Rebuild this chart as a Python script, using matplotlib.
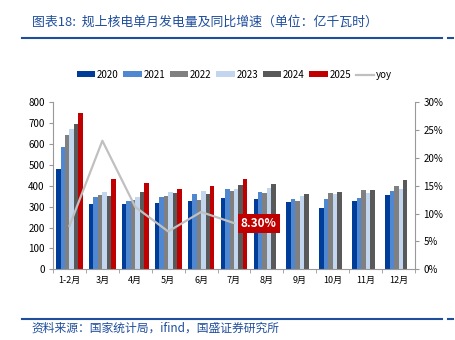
import numpy as np
import matplotlib.pyplot as plt
from matplotlib.patches import Patch
from matplotlib.lines import Line2D

plt.rcParams['font.family'] = ['Noto Sans CJK SC', 'DejaVu Sans']

months = ["1-2月", "3月", "4月", "5月", "6月", "7月", "8月", "9月", "10月", "11月", "12月"]
years = ["2020", "2021", "2022", "2023", "2024", "2025"]

gen_2020 = [481, 313, 315, 316, 326, 340, 339, 323, 292, 327, 358]
gen_2021 = [588, 348, 329, 348, 361, 387, 369, 335, 337, 340, 375]
gen_2022 = [645, 356, 331, 351, 331, 374, 367, 327, 364, 379, 401]
gen_2023 = [672, 371, 348, 371, 377, 383, 388, 350, 363, 367, 387]
gen_2024 = [696, 353, 371, 364, 361, 403, 407, 359, 372, 380, 428]
gen_2025 = [749, 431, 415, 387, 398, 433]
yoy = [7.8, 23.1, 11.2, 6.8, 10.3, 8.3]

series = [gen_2020, gen_2021, gen_2022, gen_2023, gen_2024, gen_2025]
colors = ["#003d99", "#4f88d0", "#808080", "#c3d6ef", "#595959", "#c00000"]
blue = "#1f4e9c"

fig = plt.figure(figsize=(4.55, 3.4), dpi=100)
ax = fig.add_axes([0.1165, 0.208, 0.7956, 0.491])

x = np.arange(len(months))
bw = 0.135
for i, (vals, c) in enumerate(zip(series, colors)):
    xi = x[:len(vals)] + (i - 2.5) * bw
    ax.bar(xi, vals, width=bw, color=c, linewidth=0)

ax.set_xlim(-0.5, len(months) - 0.5)
ax.set_ylim(0, 800)
ax.set_yticks(range(0, 801, 100))
ax.set_xticks(x)
ax.set_xticklabels(months)
ax.set_xticks(np.arange(-0.5, len(months), 1), minor=True)
ax.tick_params(axis='x', which='major', length=0, labelsize=6.5, pad=5)
ax.tick_params(axis='x', which='minor', length=3, color="#999999")
ax.tick_params(axis='y', labelsize=7, length=3, color="#999999", pad=3)
for s in ["top", "right"]:
    ax.spines[s].set_visible(False)
for s in ["left", "bottom"]:
    ax.spines[s].set_color("#999999")

ax2 = ax.twinx()
ax2.plot(x[:len(yoy)], yoy, color="#c0c0c0", linewidth=1.6)
ax2.set_ylim(0, 30)
ax2.set_yticks(range(0, 31, 5))
ax2.set_yticklabels([f"{v}%" for v in range(0, 31, 5)])
ax2.tick_params(axis='y', labelsize=7, length=3, color="#999999", pad=3)
for s in ["top", "left", "bottom"]:
    ax2.spines[s].set_visible(False)
ax2.spines["right"].set_color("#999999")

# label on the latest yoy point
ax2.annotate(f"{yoy[-1]:.2f}%", xy=(x[len(yoy) - 1], yoy[-1]), xytext=(5, 0),
             textcoords="offset points", ha="left", va="center",
             color="white", fontsize=8.5, fontweight="bold",
             bbox=dict(boxstyle="square,pad=0.25", fc="#c00000", ec="none"))

handles = [Patch(facecolor=c, label=y) for c, y in zip(colors, years)]
handles.append(Line2D([0], [0], color="#c0c0c0", linewidth=1.6, label="yoy"))
fig.legend(handles=handles, loc="center", bbox_to_anchor=(0.515, 0.78), ncol=7,
           frameon=False, fontsize=7, handlelength=1.9, handleheight=0.6,
           handletextpad=0.2, columnspacing=0.45)

fig.text(0.07, 0.935, "图表18:  规上核电单月发电量及同比增速（单位：亿千瓦时）",
         color=blue, fontsize=9.3, style="italic", va="center")
fig.add_artist(Line2D([0.048, 0.972], [0.888, 0.888], color=blue, linewidth=1.5))
fig.add_artist(Line2D([0.985, 0.995], [0.888, 0.888], color=blue, linewidth=1.5))
fig.add_artist(Line2D([0.048, 0.972], [0.063, 0.063], color=blue, linewidth=1.5))
fig.add_artist(Line2D([0.985, 0.995], [0.063, 0.063], color=blue, linewidth=1.5))
fig.text(0.07, 0.035, "资料来源：国家统计局，ifind，国盛证券研究所",
         color=blue, fontsize=8.5, style="italic", va="center")

fig.savefig("out.png", dpi=100)
